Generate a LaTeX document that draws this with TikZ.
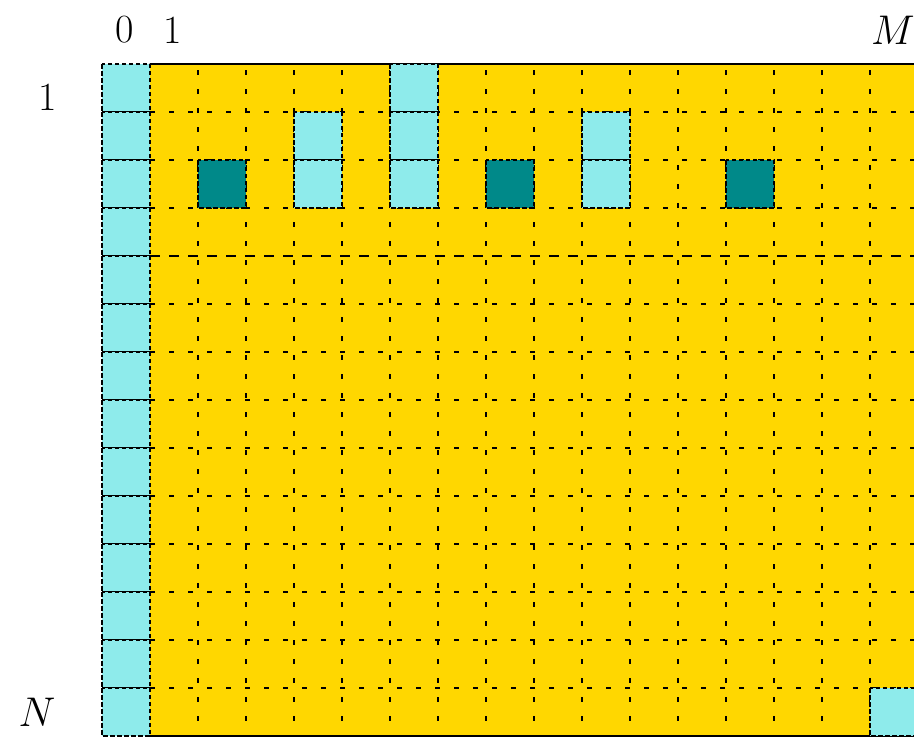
\documentclass[tikz,border=0pt]{standalone}
\definecolor{goldc}{RGB}{255,215,0}
\definecolor{cyanc}{RGB}{142,235,235}
\definecolor{tealc}{RGB}{0,137,137}
\begin{document}
\begin{tikzpicture}[x=1pt,y=-1pt,
  cellb/.style={draw=black, line width=2.2pt, dash pattern=on 4.5pt off 2.5pt},
  gridv/.style={draw=black, line width=2.8pt, dash pattern=on 5pt off 14pt, dash phase=-6pt},
  gridh/.style={draw=black, line width=2.8pt, dash pattern=on 5pt off 14pt},
  gridhl/.style={draw=black, line width=2.6pt, dash pattern=on 10pt off 9pt},
  lbl/.style={font=\fontsize{40}{40}\selectfont, inner sep=0pt},
  lblm/.style={font=\fontsize{20}{20}\selectfont, scale=2, inner sep=0pt}]
\useasboundingbox (0,0) rectangle (914,737);
\fill[goldc] (150,64) rectangle (925,736);
\foreach \i in {2,...,16} \draw[gridv] ({102+48*\i},64) -- ({102+48*\i},736);
\foreach \j in {1,2,3,5,6,7,8,9,10,11,12,13} \draw[gridh] (150,{64+48*\j}) -- (925,{64+48*\j});
\draw[gridhl] (150,256) -- (925,256);
\draw[line width=2.4pt] (150,64) -- (925,64);
\draw[line width=2.4pt] (150,736) -- (925,736);
% cyan cells
\foreach \c/\r in {0/1,0/2,0/3,0/4,0/5,0/6,0/7,0/8,0/9,0/10,0/11,0/12,0/13,0/14,4/2,4/3,6/1,6/2,6/3,10/2,10/3,16/14}
  \filldraw[fill=cyanc, cellb] ({102+48*\c},{16+48*\r}) rectangle ({150+48*\c},{64+48*\r});
\foreach \c/\r in {2/3,8/3,13/3}
  \filldraw[fill=tealc, cellb] ({102+48*\c},{16+48*\r}) rectangle ({150+48*\c},{64+48*\r});
\node[lbl] (l0) at (125,30) {0};
\node[lbl] (l1) at (173,30) {1};
\node[lblm] (lM) at (893,30) {$M$};
\node[lbl] (r1) at (48,97) {1};
\node[lblm] (rN) at (37,712) {$N$};
\end{tikzpicture}
\end{document}
